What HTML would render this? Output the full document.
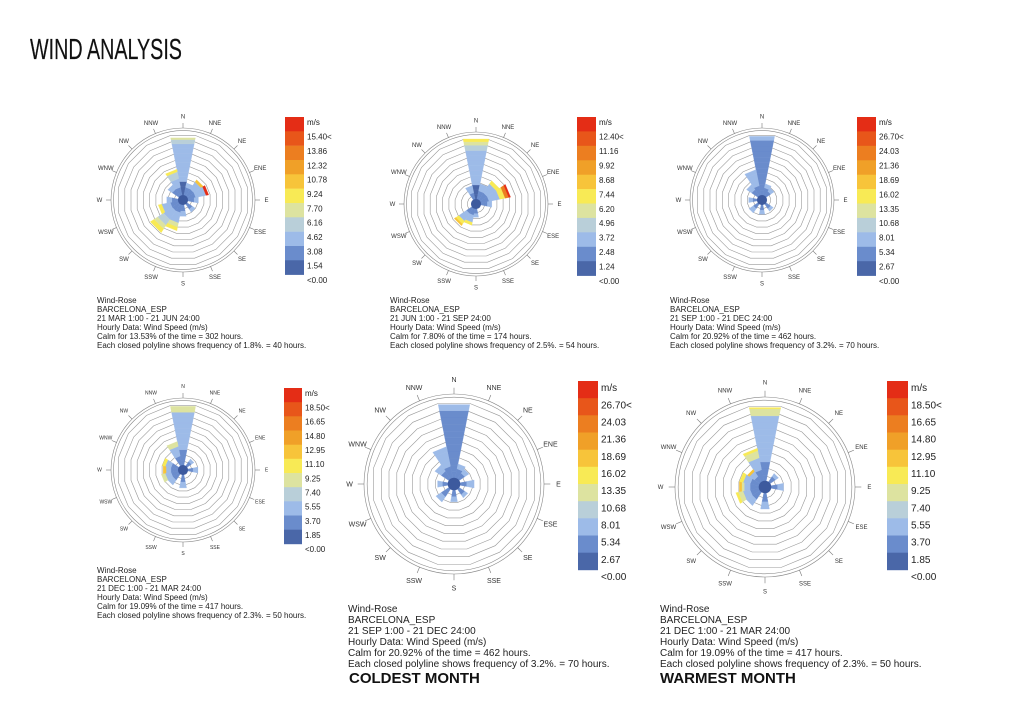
<!DOCTYPE html>
<html><head><meta charset="utf-8"><style>
body{margin:0;background:#fff;width:1024px;height:723px;overflow:hidden;position:relative;font-family:"Liberation Sans",sans-serif}
.t{position:absolute;color:#222;white-space:pre;}
</style></head><body>
<svg id="s" width="1024" height="723" style="position:absolute;left:0;top:0"></svg>
<div class="t" style="left:30px;top:34px;font-family:'Liberation Sans Narrow','Liberation Sans',sans-serif;font-size:29px;transform:scaleX(0.68);transform-origin:0 0;color:#111;-webkit-text-stroke:0.2px #111">WIND ANALYSIS</div>
<div class="t" style="left:349px;top:670px;font-size:15px;font-weight:bold;color:#111">COLDEST MONTH</div>
<div class="t" style="left:660px;top:670px;font-size:15px;font-weight:bold;color:#111">WARMEST MONTH</div>
<script>
const C=['#4a67a8','#6a8ccc','#9dbbe8','#b9cfd9','#dde3a0','#f8ea55','#f7c43a','#f0a028','#ec7e20','#e8561a','#e42d16'];
const DIR=['N','NNE','NE','ENE','E','ESE','SE','SSE','S','SSW','SW','WSW','W','WNW','NW','NNW'];
let h='';
function pt(cx,cy,r,a){const t=a*Math.PI/180;return [cx+r*Math.sin(t),cy-r*Math.cos(t)];}
function poly(cx,cy,r,n,off){let p=[];for(let i=0;i<n;i++){p.push(pt(cx,cy,r,i*360/n+off).map(v=>v.toFixed(1)).join(','));}return p.join(' ');}
function rose(cx,cy,R,petals,fs,target){
 for(let k=0;k<10;k++){h+=`<polygon points="${poly(cx,cy,R*0.12+k*R*0.088,16,11.25)}" fill="none" stroke="#999" stroke-width="0.6"/>`;}
 h+=`<circle cx="${cx}" cy="${cy}" r="${R*0.965}" fill="none" stroke="#888" stroke-width="0.6"/>`;
 h+=`<circle cx="${cx}" cy="${cy}" r="${R}" fill="none" stroke="#888" stroke-width="0.6"/>`;
 let mx=0;for(const [d,bands] of petals){let s=0;for(const [l] of bands)s+=l;mx=Math.max(mx,s);}
 const k=(target-0.06)/mx;
 for(const [d,bands] of petals){
  const a0=d*22.5-11.25,a1=d*22.5+11.25;let r0=R*0.06;
  for(const [len,ci] of bands){const r1=r0+len*k*R;
   const p=[pt(cx,cy,r0,a0),pt(cx,cy,r1,a0),pt(cx,cy,r1,a1),pt(cx,cy,r0,a1)].map(q=>q.map(v=>v.toFixed(1)).join(',')).join(' ');
   h+=`<polygon points="${p}" fill="${C[ci]}" stroke="${C[ci]}" stroke-width="0.3"/>`;r0=r1;}
 }
 h+=`<circle cx="${cx}" cy="${cy}" r="${R*0.07}" fill="#3d5a9e"/>`;
 for(let i=0;i<16;i++){const [x1,y1]=pt(cx,cy,R,i*22.5),[x2,y2]=pt(cx,cy,R*1.07,i*22.5),[tx,ty]=pt(cx,cy,R*1.16,i*22.5);
  h+=`<line x1="${x1}" y1="${y1}" x2="${x2}" y2="${y2}" stroke="#777" stroke-width="0.6"/>`;
  h+=`<text x="${tx}" y="${ty+fs/3}" font-size="${fs}" text-anchor="middle" fill="#333">${DIR[i]}</text>`;}
}
function legend(x,y,w,H,labs,fs){const ch=H/12;
 for(let i=0;i<11;i++){h+=`<rect x="${x}" y="${(y+i*ch).toFixed(1)}" width="${w}" height="${(ch+0.3).toFixed(1)}" fill="${C[10-i]}"/>`;}
 h+=`<text x="${x+w+3}" y="${y+fs}" font-size="${fs}" fill="#222">m/s</text>`;
 for(let i=0;i<11;i++){h+=`<text x="${x+w+3}" y="${(y+(i+1)*ch+fs*0.5+ch*0.3).toFixed(1)}" font-size="${fs}" fill="#222">${labs[i]}</text>`;}
}
function txt(x,y,lines,fs,lh){lines.forEach((l,i)=>{h+=`<text x="${x}" y="${y+i*lh}" font-size="${fs}" fill="#222">${l}</text>`;});}
const b=(n,c)=>Array(n).fill([0.055,c]);
rose(183,200,72,[[0,[...b(3,0),...b(8,2),[0.05,3],[0.02,4]]],[15,[[0.1,1],[0.1,2],[0.08,3],[0.03,5]]],[2,[[0.1,1],[0.1,2],[0.03,6]]],[3,[[0.1,1],[0.12,2],[0.03,10]]],[10,[[0.1,1],[0.12,2],[0.08,3],[0.05,4],[0.05,5]]],[9,[[0.1,1],[0.12,2],[0.05,4],[0.04,5]]],[11,[[0.1,1],[0.1,2],[0.04,5]]],[8,[[0.08,1],[0.06,2]]],[6,[[0.08,1],[0.04,2]]],[4,[[0.08,1],[0.05,2]]],[12,[[0.08,1],[0.06,2]]],[14,[[0.1,1],[0.06,2]]],[1,[[0.1,1],[0.05,2]]]],6,0.88);
legend(285,117,19,172,['15.40&lt;','13.86','12.32','10.78','9.24','7.70','6.16','4.62','3.08','1.54','&lt;0.00'],8);
txt(97,303,['Wind-Rose','BARCELONA_ESP','21 MAR 1:00 - 21 JUN 24:00','Hourly Data: Wind Speed (m/s)','Calm for 13.53% of the time = 302 hours.','Each closed polyline shows frequency of 1.8%. = 40 hours.'],8,9);
rose(476,204,72,[[0,[...b(3,0),...b(7,2),[0.06,3],[0.04,4],[0.03,5]]],[3,[[0.1,1],[0.12,2],[0.06,5],[0.04,8],[0.02,10]]],[2,[[0.1,1],[0.12,2],[0.04,5]]],[10,[[0.08,1],[0.1,2],[0.04,5],[0.02,6]]],[9,[[0.08,1],[0.08,2],[0.03,5]]],[15,[[0.08,1],[0.08,2]]],[1,[[0.1,1],[0.08,2]]],[4,[[0.08,1],[0.05,2]]],[8,[[0.06,1],[0.04,2]]]],6,0.92);
legend(577,117,19,173,['12.40&lt;','11.16','9.92','8.68','7.44','6.20','4.96','3.72','2.48','1.24','&lt;0.00'],8);
txt(390,303,['Wind-Rose','BARCELONA_ESP','21 JUN 1:00 - 21 SEP 24:00','Hourly Data: Wind Speed (m/s)','Calm for 7.80% of the time = 174 hours.','Each closed polyline shows frequency of 2.5%. = 54 hours.'],8,9);
rose(762,200,72,[[0,[...b(10,1),[0.04,2]]],[15,[[0.1,1],[0.12,2],[0.04,2]]],[14,[[0.08,1],[0.06,2]]],[1,[[0.08,1],[0.04,2]]],[2,[[0.06,1],[0.04,2]]],[8,[[0.06,1],[0.04,2]]],[10,[[0.06,1],[0.05,2]]],[6,[[0.06,1],[0.03,2]]],[12,[[0.05,1],[0.04,2]]]],6,0.9);
legend(857,117,19,173,['26.70&lt;','24.03','21.36','18.69','16.02','13.35','10.68','8.01','5.34','2.67','&lt;0.00'],8);
txt(670,303,['Wind-Rose','BARCELONA_ESP','21 SEP 1:00 - 21 DEC 24:00','Hourly Data: Wind Speed (m/s)','Calm for 20.92% of the time = 462 hours.','Each closed polyline shows frequency of 3.2%. = 70 hours.'],8,9);
rose(183,470,72,[[0,[...b(3,1),...b(7,2),[0.06,4]]],[15,[[0.1,1],[0.1,2],[0.05,4]]],[13,[[0.08,1],[0.06,2],[0.03,5]]],[12,[[0.08,1],[0.05,2],[0.03,6]]],[11,[[0.08,1],[0.06,2],[0.04,4]]],[10,[[0.08,1],[0.06,2]]],[8,[[0.08,1],[0.06,2]]],[4,[[0.06,1],[0.05,2]]],[2,[[0.06,1],[0.03,2]]]],5,0.9);
legend(284,388,18,170,['18.50&lt;','16.65','14.80','12.95','11.10','9.25','7.40','5.55','3.70','1.85','&lt;0.00'],8);
txt(97,573,['Wind-Rose','BARCELONA_ESP','21 DEC 1:00 - 21 MAR 24:00','Hourly Data: Wind Speed (m/s)','Calm for 19.09% of the time = 417 hours.','Each closed polyline shows frequency of 2.3%. = 50 hours.'],8,9);
rose(454,484,90,[[0,[...b(10,1),[0.05,2]]],[15,[[0.1,1],[0.12,2],[0.04,2]]],[14,[[0.08,1],[0.06,2]]],[1,[[0.08,1],[0.04,2]]],[2,[[0.06,1],[0.04,2]]],[4,[[0.06,1],[0.06,2]]],[8,[[0.06,1],[0.04,2]]],[10,[[0.08,1],[0.05,2]]],[6,[[0.06,1],[0.03,2]]],[12,[[0.05,1],[0.04,2]]]],7,0.9);
legend(578,381,20,206,['26.70&lt;','24.03','21.36','18.69','16.02','13.35','10.68','8.01','5.34','2.67','&lt;0.00'],10);
txt(348,612,['Wind-Rose','BARCELONA_ESP','21 SEP 1:00 - 21 DEC 24:00','Hourly Data: Wind Speed (m/s)','Calm for 20.92% of the time = 462 hours.','Each closed polyline shows frequency of 3.2%. = 70 hours.'],10,11);
rose(765,487,90,[[0,[...b(3,1),...b(7,2),[0.06,4],[0.01,5]]],[15,[[0.1,1],[0.1,2],[0.06,4],[0.02,5]]],[13,[[0.08,1],[0.06,2],[0.03,5]]],[12,[[0.08,1],[0.05,2],[0.02,4],[0.02,6]]],[11,[[0.08,1],[0.06,2],[0.04,4],[0.02,5]]],[10,[[0.08,1],[0.06,2]]],[8,[[0.08,1],[0.06,2]]],[4,[[0.06,1],[0.05,2]]],[2,[[0.06,1],[0.03,2]]],[14,[[0.06,1],[0.05,2],[0.02,6]]]],6,0.9);
legend(887,381,21,206,['18.50&lt;','16.65','14.80','12.95','11.10','9.25','7.40','5.55','3.70','1.85','&lt;0.00'],10);
txt(660,612,['Wind-Rose','BARCELONA_ESP','21 DEC 1:00 - 21 MAR 24:00','Hourly Data: Wind Speed (m/s)','Calm for 19.09% of the time = 417 hours.','Each closed polyline shows frequency of 2.3%. = 50 hours.'],10,11);
document.getElementById('s').innerHTML=h;
</script>
</body></html>
